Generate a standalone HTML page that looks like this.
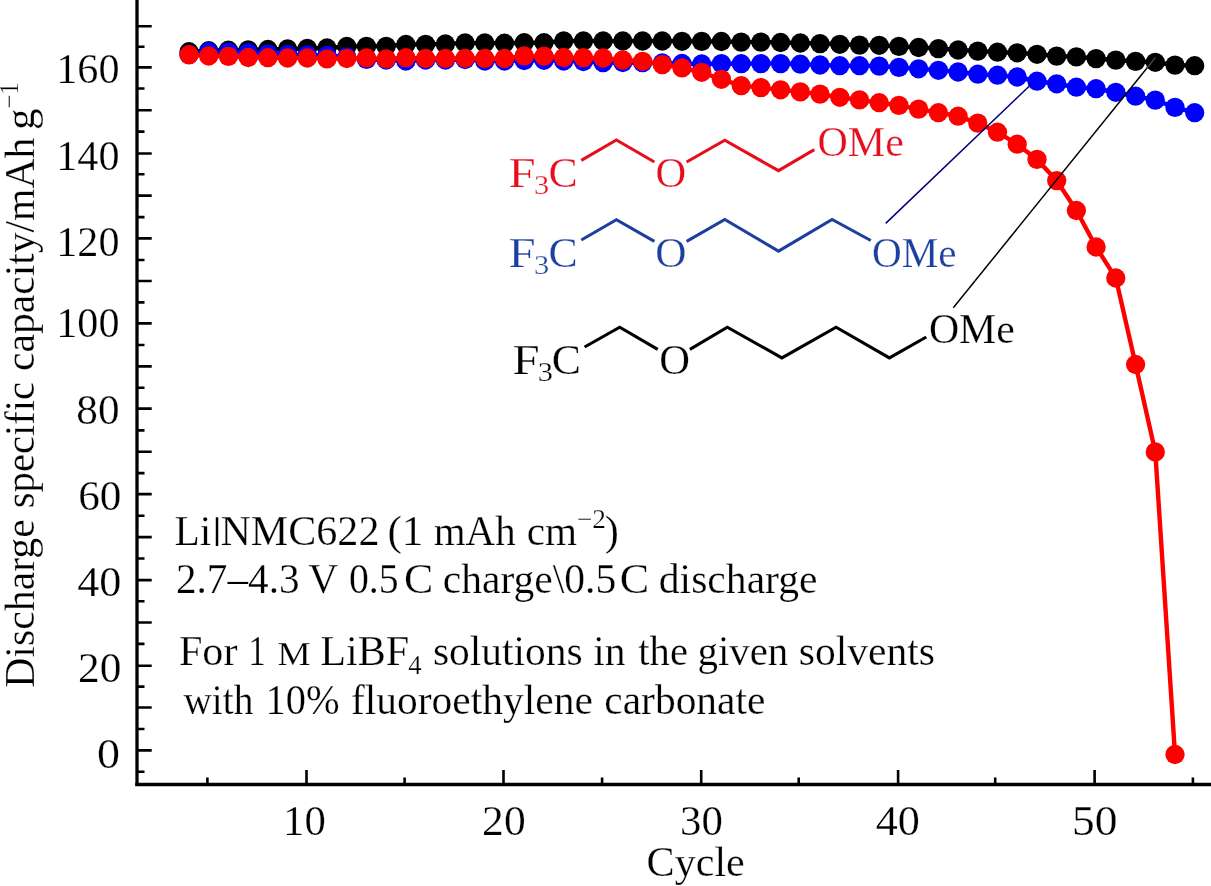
<!DOCTYPE html>
<html lang="en">
<head>
<meta charset="utf-8">
<title>Discharge specific capacity vs cycle</title>
<style>
html,body{margin:0;padding:0;background:#fff;}
body{width:1211px;height:886px;overflow:hidden;}
svg{display:block;font-family:"Liberation Serif","DejaVu Serif",serif;font-size:42.3px;}
.ax{stroke:#000;stroke-width:3.3;fill:none;stroke-linecap:butt;}
text{stroke:#fff;stroke-width:0.25px;}
.bond{fill:none;stroke-width:3.1;stroke-linejoin:miter;stroke-linecap:butt;}
</style>
</head>
<body>
<svg width="1211" height="886" viewBox="0 0 1211 886">
<defs><filter id="soft" filterUnits="userSpaceOnUse" x="-20" y="-20" width="1251" height="926"><feGaussianBlur stdDeviation="0.5"/></filter></defs>
<rect x="-20" y="-20" width="1251" height="926" fill="#fff"/>
<g filter="url(#soft)">
<rect x="-20" y="-20" width="1251" height="926" fill="#fff"/>
<g class="ax">
<path d="M137.0 -15V786.1"/><path d="M135.3 784.5H1226"/><path stroke-width="2.6" d="M137.0 771.8H144.5M137.0 750.4H151.7M137.0 729.0H144.5M137.0 707.5H151.7M137.0 686.6H144.5M137.0 665.8H151.7M137.0 643.9H144.5M137.0 622.5H151.7M137.0 601.2H144.5M137.0 580.1H151.7M137.0 558.5H144.5M137.0 537.1H151.7M137.0 515.8H144.5M137.0 494.1H151.7M137.0 473.1H144.5M137.0 451.8H151.7M137.0 430.4H144.5M137.0 408.6H151.7M137.0 387.7H144.5M137.0 366.4H151.7M137.0 345.0H144.5M137.0 323.4H151.7M137.0 302.4H144.5M137.0 281.0H151.7M137.0 260.0H144.5M137.0 238.4H151.7M137.0 217.1H144.5M137.0 195.6H151.7M137.0 174.3H144.5M137.0 153.5H151.7M137.0 131.6H144.5M137.0 110.2H151.7M137.0 88.5H144.5M137.0 67.4H151.7M137.0 46.8H144.5M137.0 26.3H151.7"/><path stroke-width="2.6" d="M207.4 784.5V777.4M306.5 784.5V770.0M404.6 784.5V777.4M503.5 784.5V770.0M602.1 784.5V777.4M701.2 784.5V770.0M798.7 784.5V777.4M898.1 784.5V770.0M995.2 784.5V777.4M1094.6 784.5V770.0M1192.9 784.5V777.4"/>
</g>
<g fill="#000">
<text x="56.30" y="82.70" textLength="63.21" lengthAdjust="spacingAndGlyphs">160</text><text x="56.30" y="169.50" textLength="63.21" lengthAdjust="spacingAndGlyphs">140</text><text x="56.30" y="255.90" textLength="63.21" lengthAdjust="spacingAndGlyphs">120</text><text x="56.30" y="336.80" textLength="63.21" lengthAdjust="spacingAndGlyphs">100</text><text x="76.35" y="424.30" textLength="43.20" lengthAdjust="spacingAndGlyphs">80</text><text x="78.15" y="509.80" textLength="43.20" lengthAdjust="spacingAndGlyphs">60</text><text x="77.20" y="595.90" textLength="44.19" lengthAdjust="spacingAndGlyphs">40</text><text x="77.93" y="681.80" textLength="43.43" lengthAdjust="spacingAndGlyphs">20</text><text x="97.04" y="768.20" textLength="23.02" lengthAdjust="spacingAndGlyphs">0</text>
<text x="283.05" y="835.00" textLength="42.67" lengthAdjust="spacingAndGlyphs">10</text><text x="482.12" y="835.00" textLength="43.54" lengthAdjust="spacingAndGlyphs">20</text><text x="680.06" y="835.00" textLength="42.78" lengthAdjust="spacingAndGlyphs">30</text><text x="875.70" y="835.00" textLength="44.19" lengthAdjust="spacingAndGlyphs">40</text><text x="1071.95" y="835.00" textLength="45.49" lengthAdjust="spacingAndGlyphs">50</text>
</g>
<g fill="#000">
<text x="646.60" y="875.50" textLength="98.19" lengthAdjust="spacingAndGlyphs">Cycle</text>
<g transform="translate(34.4 686.5) rotate(-90)"><text x="-1.37" y="0.00" textLength="168.68" lengthAdjust="spacingAndGlyphs">Discharge</text><text x="178.25" y="0.00" textLength="126.36" lengthAdjust="spacingAndGlyphs">specific</text><text x="315.52" y="0.00" textLength="233.28" lengthAdjust="spacingAndGlyphs">capacity/mAh</text><text x="556.64" y="0.00" textLength="21.54" lengthAdjust="spacingAndGlyphs">g</text><text x="577.84" y="-16.30" font-size="26.69" textLength="26.45" lengthAdjust="spacingAndGlyphs">−1</text></g>
<text x="174.54" y="544.60" textLength="36.75" lengthAdjust="spacingAndGlyphs">Li</text><text x="210.77" y="538.70" font-size="31.62" textLength="12.57" lengthAdjust="spacingAndGlyphs">|</text><text x="220.42" y="544.60" textLength="159.05" lengthAdjust="spacingAndGlyphs">NMC622</text><text x="387.44" y="544.60" textLength="35.99" lengthAdjust="spacingAndGlyphs">(1</text><text x="433.76" y="544.60" textLength="81.87" lengthAdjust="spacingAndGlyphs">mAh</text><text x="526.63" y="544.60" textLength="50.37" lengthAdjust="spacingAndGlyphs">cm</text><text x="576.81" y="527.60" font-size="26.69" textLength="29.08" lengthAdjust="spacingAndGlyphs">−2</text><text x="604.71" y="544.60" textLength="14.14" lengthAdjust="spacingAndGlyphs">)</text>
<text x="175.93" y="593.00" textLength="123.64" lengthAdjust="spacingAndGlyphs">2.7–4.3</text><text x="308.17" y="593.00" textLength="29.96" lengthAdjust="spacingAndGlyphs">V</text><text x="348.99" y="593.00" textLength="49.62" lengthAdjust="spacingAndGlyphs">0.5</text><text x="404.02" y="593.00" textLength="29.30" lengthAdjust="spacingAndGlyphs">C</text><text x="442.82" y="593.00" textLength="173.43" lengthAdjust="spacingAndGlyphs">charge\0.5</text><text x="619.82" y="593.00" textLength="29.42" lengthAdjust="spacingAndGlyphs">C</text><text x="658.82" y="593.00" textLength="158.69" lengthAdjust="spacingAndGlyphs">discharge</text>
<text x="178.91" y="664.50" textLength="58.59" lengthAdjust="spacingAndGlyphs">For</text><text x="248.57" y="664.50" textLength="17.10" lengthAdjust="spacingAndGlyphs">1</text><text x="277.35" y="664.50" font-size="33.73" textLength="33.57" lengthAdjust="spacingAndGlyphs">M</text><text x="320.22" y="664.50" textLength="88.96" lengthAdjust="spacingAndGlyphs">LiBF</text><text x="408.14" y="674.00" font-size="27.19" textLength="13.38" lengthAdjust="spacingAndGlyphs">4</text><text x="432.92" y="664.50" textLength="149.81" lengthAdjust="spacingAndGlyphs">solutions</text><text x="593.25" y="664.50" textLength="32.30" lengthAdjust="spacingAndGlyphs">in</text><text x="638.37" y="664.50" textLength="49.53" lengthAdjust="spacingAndGlyphs">the</text><text x="697.44" y="664.50" textLength="90.86" lengthAdjust="spacingAndGlyphs">given</text><text x="798.72" y="664.50" textLength="136.16" lengthAdjust="spacingAndGlyphs">solvents</text>
<text x="183.38" y="713.80" textLength="70.04" lengthAdjust="spacingAndGlyphs">with</text><text x="265.55" y="713.80" textLength="74.01" lengthAdjust="spacingAndGlyphs">10%</text><text x="350.94" y="713.80" textLength="241.88" lengthAdjust="spacingAndGlyphs">fluoroethylene</text><text x="604.32" y="713.80" textLength="161.10" lengthAdjust="spacingAndGlyphs">carbonate</text>
</g>
<g fill="#e60f1e" stroke="#e60f1e">
<g stroke="none"><text x="508.61" y="187.40" textLength="27.17" lengthAdjust="spacingAndGlyphs">F</text><text x="534.01" y="194.00" font-size="27.19" textLength="15.23" lengthAdjust="spacingAndGlyphs">3</text><text x="548.53" y="187.40" textLength="29.19" lengthAdjust="spacingAndGlyphs">C</text><text x="655.38" y="187.40" textLength="30.63" lengthAdjust="spacingAndGlyphs">O</text><text x="817.50" y="155.80" textLength="86.30" lengthAdjust="spacingAndGlyphs">OMe</text></g>
<polyline class="bond" points="581.3,160.4 616.4,140.0 654.4,162.0"/><polyline class="bond" points="686.6,162.0 724.8,140.2 778.5,170.7 814.3,149.6"/>
</g>
<g fill="#1d3f9f" stroke="#1d3f9f">
<g stroke="none"><text x="508.61" y="266.90" textLength="27.17" lengthAdjust="spacingAndGlyphs">F</text><text x="534.01" y="273.50" font-size="27.19" textLength="15.23" lengthAdjust="spacingAndGlyphs">3</text><text x="548.53" y="266.90" textLength="29.19" lengthAdjust="spacingAndGlyphs">C</text><text x="655.35" y="266.90" textLength="31.19" lengthAdjust="spacingAndGlyphs">O</text><text x="872.03" y="266.80" textLength="84.53" lengthAdjust="spacingAndGlyphs">OMe</text></g>
<polyline class="bond" points="581.3,240.0 616.4,219.7 654.4,241.4"/><polyline class="bond" points="686.6,241.4 724.8,219.5 778.5,251.2 832.1,219.5 870.8,240.5"/>
</g>
<g fill="#000" stroke="#000">
<g stroke="none"><text x="512.41" y="374.10" textLength="27.17" lengthAdjust="spacingAndGlyphs">F</text><text x="537.81" y="380.70" font-size="27.19" textLength="15.23" lengthAdjust="spacingAndGlyphs">3</text><text x="551.83" y="374.10" textLength="29.19" lengthAdjust="spacingAndGlyphs">C</text><text x="659.18" y="374.10" textLength="30.74" lengthAdjust="spacingAndGlyphs">O</text><text x="928.91" y="342.50" textLength="85.88" lengthAdjust="spacingAndGlyphs">OMe</text></g>
<polyline class="bond" points="584.6,347.0 619.7,327.2 657.7,349.3"/><polyline class="bond" points="689.9,349.3 727.3,327.2 781.9,357.9 836.1,327.2 889.4,357.9 926.3,337.0"/>
</g>
<g fill="#000" stroke="none">
<polyline fill="none" stroke="#000" stroke-width="4.5" points="189.0,51.7 208.7,50.7 228.4,50.2 248.2,49.8 267.9,49.5 287.6,49.0 307.3,48.4 327.0,48.0 346.8,46.5 366.5,46.3 386.2,46.3 405.9,44.5 425.6,44.3 445.4,44.0 465.1,43.0 484.8,43.0 504.5,43.2 524.2,42.7 544.0,42.7 563.7,41.0 583.4,41.0 603.1,41.0 622.8,41.0 642.6,41.0 662.3,41.0 682.0,41.3 701.7,41.4 721.4,41.5 741.2,42.1 760.9,42.1 780.6,42.5 800.3,43.0 820.0,43.6 839.8,44.3 859.5,45.1 879.2,45.3 898.9,46.4 918.6,47.5 938.4,48.6 958.1,50.0 977.8,51.1 997.5,52.2 1017.2,52.8 1037.0,54.3 1056.7,56.1 1076.4,56.9 1096.1,58.6 1115.8,60.1 1135.6,61.4 1155.3,62.3 1175.0,65.1 1194.7,65.7"/>
<circle cx="189.0" cy="51.7" r="9.65"/><circle cx="208.7" cy="50.7" r="9.65"/><circle cx="228.4" cy="50.2" r="9.65"/><circle cx="248.2" cy="49.8" r="9.65"/><circle cx="267.9" cy="49.5" r="9.65"/><circle cx="287.6" cy="49.0" r="9.65"/><circle cx="307.3" cy="48.4" r="9.65"/><circle cx="327.0" cy="48.0" r="9.65"/><circle cx="346.8" cy="46.5" r="9.65"/><circle cx="366.5" cy="46.3" r="9.65"/><circle cx="386.2" cy="46.3" r="9.65"/><circle cx="405.9" cy="44.5" r="9.65"/><circle cx="425.6" cy="44.3" r="9.65"/><circle cx="445.4" cy="44.0" r="9.65"/><circle cx="465.1" cy="43.0" r="9.65"/><circle cx="484.8" cy="43.0" r="9.65"/><circle cx="504.5" cy="43.2" r="9.65"/><circle cx="524.2" cy="42.7" r="9.65"/><circle cx="544.0" cy="42.7" r="9.65"/><circle cx="563.7" cy="41.0" r="9.65"/><circle cx="583.4" cy="41.0" r="9.65"/><circle cx="603.1" cy="41.0" r="9.65"/><circle cx="622.8" cy="41.0" r="9.65"/><circle cx="642.6" cy="41.0" r="9.65"/><circle cx="662.3" cy="41.0" r="9.65"/><circle cx="682.0" cy="41.3" r="9.65"/><circle cx="701.7" cy="41.4" r="9.65"/><circle cx="721.4" cy="41.5" r="9.65"/><circle cx="741.2" cy="42.1" r="9.65"/><circle cx="760.9" cy="42.1" r="9.65"/><circle cx="780.6" cy="42.5" r="9.65"/><circle cx="800.3" cy="43.0" r="9.65"/><circle cx="820.0" cy="43.6" r="9.65"/><circle cx="839.8" cy="44.3" r="9.65"/><circle cx="859.5" cy="45.1" r="9.65"/><circle cx="879.2" cy="45.3" r="9.65"/><circle cx="898.9" cy="46.4" r="9.65"/><circle cx="918.6" cy="47.5" r="9.65"/><circle cx="938.4" cy="48.6" r="9.65"/><circle cx="958.1" cy="50.0" r="9.65"/><circle cx="977.8" cy="51.1" r="9.65"/><circle cx="997.5" cy="52.2" r="9.65"/><circle cx="1017.2" cy="52.8" r="9.65"/><circle cx="1037.0" cy="54.3" r="9.65"/><circle cx="1056.7" cy="56.1" r="9.65"/><circle cx="1076.4" cy="56.9" r="9.65"/><circle cx="1096.1" cy="58.6" r="9.65"/><circle cx="1115.8" cy="60.1" r="9.65"/><circle cx="1135.6" cy="61.4" r="9.65"/><circle cx="1155.3" cy="62.3" r="9.65"/><circle cx="1175.0" cy="65.1" r="9.65"/><circle cx="1194.7" cy="65.7" r="9.65"/>
</g>
<g fill="#0000ff" stroke="none">
<polyline fill="none" stroke="#0000ff" stroke-width="4.5" points="189.0,54.7 208.7,51.7 228.4,52.2 248.2,52.6 267.9,53.9 287.6,54.5 307.3,55.0 327.0,55.5 346.8,57.0 366.5,59.4 386.2,60.0 405.9,61.0 425.6,60.0 445.4,60.0 465.1,59.5 484.8,61.0 504.5,61.0 524.2,60.5 544.0,60.3 563.7,61.0 583.4,61.5 603.1,62.7 622.8,62.5 642.6,62.7 662.3,63.0 682.0,63.5 701.7,64.0 721.4,63.6 741.2,63.7 760.9,63.6 780.6,63.6 800.3,64.2 820.0,65.0 839.8,65.7 859.5,65.7 879.2,66.1 898.9,67.4 918.6,68.8 938.4,70.3 958.1,72.0 977.8,74.2 997.5,75.2 1017.2,77.0 1037.0,81.2 1056.7,83.8 1076.4,87.2 1096.1,88.7 1115.8,92.3 1135.6,96.2 1155.3,100.1 1175.0,107.4 1194.7,112.7"/>
<circle cx="189.0" cy="54.7" r="9.65"/><circle cx="208.7" cy="51.7" r="9.65"/><circle cx="228.4" cy="52.2" r="9.65"/><circle cx="248.2" cy="52.6" r="9.65"/><circle cx="267.9" cy="53.9" r="9.65"/><circle cx="287.6" cy="54.5" r="9.65"/><circle cx="307.3" cy="55.0" r="9.65"/><circle cx="327.0" cy="55.5" r="9.65"/><circle cx="346.8" cy="57.0" r="9.65"/><circle cx="366.5" cy="59.4" r="9.65"/><circle cx="386.2" cy="60.0" r="9.65"/><circle cx="405.9" cy="61.0" r="9.65"/><circle cx="425.6" cy="60.0" r="9.65"/><circle cx="445.4" cy="60.0" r="9.65"/><circle cx="465.1" cy="59.5" r="9.65"/><circle cx="484.8" cy="61.0" r="9.65"/><circle cx="504.5" cy="61.0" r="9.65"/><circle cx="524.2" cy="60.5" r="9.65"/><circle cx="544.0" cy="60.3" r="9.65"/><circle cx="563.7" cy="61.0" r="9.65"/><circle cx="583.4" cy="61.5" r="9.65"/><circle cx="603.1" cy="62.7" r="9.65"/><circle cx="622.8" cy="62.5" r="9.65"/><circle cx="642.6" cy="62.7" r="9.65"/><circle cx="662.3" cy="63.0" r="9.65"/><circle cx="682.0" cy="63.5" r="9.65"/><circle cx="701.7" cy="64.0" r="9.65"/><circle cx="721.4" cy="63.6" r="9.65"/><circle cx="741.2" cy="63.7" r="9.65"/><circle cx="760.9" cy="63.6" r="9.65"/><circle cx="780.6" cy="63.6" r="9.65"/><circle cx="800.3" cy="64.2" r="9.65"/><circle cx="820.0" cy="65.0" r="9.65"/><circle cx="839.8" cy="65.7" r="9.65"/><circle cx="859.5" cy="65.7" r="9.65"/><circle cx="879.2" cy="66.1" r="9.65"/><circle cx="898.9" cy="67.4" r="9.65"/><circle cx="918.6" cy="68.8" r="9.65"/><circle cx="938.4" cy="70.3" r="9.65"/><circle cx="958.1" cy="72.0" r="9.65"/><circle cx="977.8" cy="74.2" r="9.65"/><circle cx="997.5" cy="75.2" r="9.65"/><circle cx="1017.2" cy="77.0" r="9.65"/><circle cx="1037.0" cy="81.2" r="9.65"/><circle cx="1056.7" cy="83.8" r="9.65"/><circle cx="1076.4" cy="87.2" r="9.65"/><circle cx="1096.1" cy="88.7" r="9.65"/><circle cx="1115.8" cy="92.3" r="9.65"/><circle cx="1135.6" cy="96.2" r="9.65"/><circle cx="1155.3" cy="100.1" r="9.65"/><circle cx="1175.0" cy="107.4" r="9.65"/><circle cx="1194.7" cy="112.7" r="9.65"/>
</g>
<g fill="#ff0000" stroke="none">
<polyline fill="none" stroke="#ff0000" stroke-width="4.4" points="189.0,54.7 208.7,56.0 228.4,56.4 248.2,57.5 267.9,57.7 287.6,58.0 307.3,58.0 327.0,58.9 346.8,58.5 366.5,57.9 386.2,58.9 405.9,57.7 425.6,58.5 445.4,58.5 465.1,58.3 484.8,58.5 504.5,58.5 524.2,55.9 544.0,56.2 563.7,57.5 583.4,57.6 603.1,58.0 622.8,60.0 642.6,61.3 662.3,64.6 682.0,67.9 701.7,72.3 721.4,79.3 741.2,85.7 760.9,87.6 780.6,89.8 800.3,91.9 820.0,94.1 839.8,97.3 859.5,99.9 879.2,102.7 898.9,105.4 918.6,109.1 938.4,112.7 958.1,116.2 977.8,123.1 997.5,132.2 1017.2,144.2 1037.0,159.4 1056.7,180.6 1076.4,210.5 1096.1,247.0 1115.8,278.0 1135.6,364.5 1155.3,452.0 1175.0,754.5"/>
<circle cx="189.0" cy="54.7" r="9.65"/><circle cx="208.7" cy="56.0" r="9.65"/><circle cx="228.4" cy="56.4" r="9.65"/><circle cx="248.2" cy="57.5" r="9.65"/><circle cx="267.9" cy="57.7" r="9.65"/><circle cx="287.6" cy="58.0" r="9.65"/><circle cx="307.3" cy="58.0" r="9.65"/><circle cx="327.0" cy="58.9" r="9.65"/><circle cx="346.8" cy="58.5" r="9.65"/><circle cx="366.5" cy="57.9" r="9.65"/><circle cx="386.2" cy="58.9" r="9.65"/><circle cx="405.9" cy="57.7" r="9.65"/><circle cx="425.6" cy="58.5" r="9.65"/><circle cx="445.4" cy="58.5" r="9.65"/><circle cx="465.1" cy="58.3" r="9.65"/><circle cx="484.8" cy="58.5" r="9.65"/><circle cx="504.5" cy="58.5" r="9.65"/><circle cx="524.2" cy="55.9" r="9.65"/><circle cx="544.0" cy="56.2" r="9.65"/><circle cx="563.7" cy="57.5" r="9.65"/><circle cx="583.4" cy="57.6" r="9.65"/><circle cx="603.1" cy="58.0" r="9.65"/><circle cx="622.8" cy="60.0" r="9.65"/><circle cx="642.6" cy="61.3" r="9.65"/><circle cx="662.3" cy="64.6" r="9.65"/><circle cx="682.0" cy="67.9" r="9.65"/><circle cx="701.7" cy="72.3" r="9.65"/><circle cx="721.4" cy="79.3" r="9.65"/><circle cx="741.2" cy="85.7" r="9.65"/><circle cx="760.9" cy="87.6" r="9.65"/><circle cx="780.6" cy="89.8" r="9.65"/><circle cx="800.3" cy="91.9" r="9.65"/><circle cx="820.0" cy="94.1" r="9.65"/><circle cx="839.8" cy="97.3" r="9.65"/><circle cx="859.5" cy="99.9" r="9.65"/><circle cx="879.2" cy="102.7" r="9.65"/><circle cx="898.9" cy="105.4" r="9.65"/><circle cx="918.6" cy="109.1" r="9.65"/><circle cx="938.4" cy="112.7" r="9.65"/><circle cx="958.1" cy="116.2" r="9.65"/><circle cx="977.8" cy="123.1" r="9.65"/><circle cx="997.5" cy="132.2" r="9.65"/><circle cx="1017.2" cy="144.2" r="9.65"/><circle cx="1037.0" cy="159.4" r="9.65"/><circle cx="1056.7" cy="180.6" r="9.65"/><circle cx="1076.4" cy="210.5" r="9.65"/><circle cx="1096.1" cy="247.0" r="9.65"/><circle cx="1115.8" cy="278.0" r="9.65"/><circle cx="1135.6" cy="364.5" r="9.65"/><circle cx="1155.3" cy="452.0" r="9.65"/><circle cx="1175.0" cy="754.5" r="9.65"/>
</g>
<line x1="885.7" y1="223.4" x2="1031.5" y2="84" stroke="#00007a" stroke-width="1.5"/>
<line x1="953.3" y1="307.8" x2="1155.5" y2="57.5" stroke="#000" stroke-width="1.5"/>
<line x1="1146.5" y1="68.6" x2="1155.5" y2="57.5" stroke="#4a4a4a" stroke-width="1.2"/>
</g>
</svg>
</body>
</html>
